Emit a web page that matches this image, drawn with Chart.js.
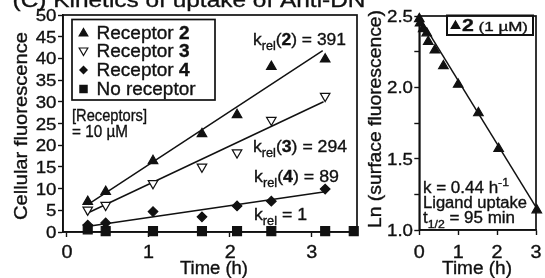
<!DOCTYPE html>
<html>
<head>
<meta charset="utf-8">
<script src="https://cdn.jsdelivr.net/npm/chart.js@4.4.1/dist/chart.umd.min.js"></script>
<style>
html, body { margin: 0; padding: 0; background: #fff; }
#wrap { position: relative; width: 545px; height: 278px; overflow: hidden; }
canvas { position: absolute; left: 0; top: 0; }
</style>
</head>
<body>
<div id="wrap">
  <canvas id="uptake" width="545" height="278"></canvas>
  <canvas id="lnplot" width="545" height="278"></canvas>
</div>
<script>
'use strict'
var FONT = "'Liberation Sans', Arial, Helvetica, sans-serif";
var INK = '#111';

// left panel: cellular fluorescence vs time (h)
var timeH = [0.26, 0.48, 1.06, 1.66, 2.09, 2.51, 3.17];
var rec2 = [7.0, 9.3, 16.4, 22.6, 27.0, 38.1, 39.8];
var rec3 = [5.1, 6.2, 11.2, 15.0, 18.3, 25.8, 31.3];
var rec4 = [1.6, 2.1, 4.7, 3.5, 6.0, 7.1, 9.9];
var timeNone = [0.26, 0.48, 1.06, 1.66, 2.09, 2.51, 3.17, 3.52];
var noRec = [0.6, 0.2, 0.2, 0.2, 0.2, 0.2, 0.2, 0.2];
var fit2T = [0.26, 3.14], fit2 = [6.3, 41.8];
var fit3T = [0.24, 3.15], fit3 = [4.2, 30.0];
var fit4T = [0.27, 3.17], fit4 = [1.3, 9.3];
var xTicksL = [0, 1, 2, 3];
var yTicksL = [0, 5, 10, 15, 20, 25, 30, 35, 40, 45, 50];

// right panel: ln(surface fluorescence) vs time (h)
var timeR = [0, 0.02, 0.10, 0.19, 0.23, 0.40, 0.62, 1.00, 1.52, 2.04, 3.02];
var lnR = [2.48, 2.45, 2.41, 2.38, 2.32, 2.26, 2.15, 2.02, 1.82, 1.57, 1.14];
var fitRT = [0, 3], fitR = [2.49, 1.16];
var xTicksR = [0, 1, 2, 3];
var yTicksR = [1.0, 1.25, 1.5, 1.75, 2.0, 2.25, 2.5];
var yLabR = [1.0, 1.5, 2.0, 2.5];
var yLabRText = ['1.0', '1.5', '2.0', '2.5'];

Chart.defaults.font.family = FONT;

// draws a run of text pieces: [text, style] with style b / sub / sup / s
function rich(ctx, x, y, segs, size, opt) {
  opt = opt || {};
  var parts = segs.map(function (s) {
    var st = s[1] || '';
    var sz = (st === 'sub' || st === 'sup') ? size * 0.72 : st === 's' ? size * 0.8 : size;
    var f = (st === 'b' ? 'bold ' : '') + sz + 'px ' + FONT;
    ctx.font = f;
    return { t: s[0], f: f, w: ctx.measureText(s[0]).width,
      dy: st === 'sub' ? size * 0.3 : st === 'sup' ? -size * 0.42 : 0 };
  });
  var tot = parts.reduce(function (a, p) { return a + p.w; }, 0);
  var sx = opt.w ? opt.w / tot : (opt.sx || 1);
  var x0 = opt.align === 'center' ? -tot / 2 : opt.align === 'right' ? -tot : 0;
  ctx.save();
  ctx.translate(x, y);
  if (opt.rot) ctx.rotate(opt.rot);
  ctx.scale(sx, 1);
  ctx.fillStyle = INK;
  ctx.strokeStyle = INK;
  ctx.lineWidth = 0.35;
  ctx.textAlign = 'left';
  ctx.textBaseline = 'alphabetic';
  parts.forEach(function (p) {
    ctx.font = p.f;
    ctx.fillText(p.t, x0, p.dy);
    ctx.strokeText(p.t, x0, p.dy);
    x0 += p.w;
  });
  ctx.restore();
}

function mark(ctx, kind, x, y, r) {
  ctx.save();
  ctx.fillStyle = INK; ctx.strokeStyle = INK; ctx.lineWidth = 1.2;
  ctx.beginPath();
  if (kind === 'up') {
    ctx.moveTo(x, y - r); ctx.lineTo(x + r * 0.866, y + r / 2); ctx.lineTo(x - r * 0.866, y + r / 2);
    ctx.closePath(); ctx.fill(); ctx.stroke();
  } else if (kind === 'down') {
    ctx.moveTo(x, y + r); ctx.lineTo(x + r * 0.866, y - r / 2); ctx.lineTo(x - r * 0.866, y - r / 2);
    ctx.closePath(); ctx.fillStyle = '#fff'; ctx.fill(); ctx.stroke();
  } else if (kind === 'dia') {
    ctx.moveTo(x, y - r); ctx.lineTo(x + r, y); ctx.lineTo(x, y + r); ctx.lineTo(x - r, y);
    ctx.closePath(); ctx.fill();
  } else {
    ctx.rect(x - r * 0.707, y - r * 0.707, r * 1.414, r * 1.414); ctx.fill();
  }
  ctx.restore();
}

function pts(xs, ys) { return xs.map(function (x, i) { return { x: x, y: ys[i] }; }); }
function markSet(xs, ys, style, r, fill, rot) {
  return { data: pts(xs, ys), pointStyle: style, pointRadius: r, pointRotation: rot || 0,
    pointBackgroundColor: fill, pointBorderColor: INK, pointBorderWidth: 1.2,
    showLine: false, clip: false, order: 0 };
}
function fitSet(xs, ys) {
  return { data: pts(xs, ys), showLine: true, borderColor: INK, borderWidth: 1.5,
    pointRadius: 0, clip: false, order: 1, fill: false };
}
function setTicks(vals) { return function (s) { s.ticks = vals.map(function (v) { return { value: v }; }); }; }
function fixW(w) { return function (s) { s.width = w; s.paddingTop = 0; s.paddingBottom = 0; }; }
function fixH(h) { return function (s) { s.height = h; s.paddingLeft = 0; s.paddingRight = 0; }; }
var gridOpts = { drawOnChartArea: false, drawTicks: true, tickLength: 5, tickWidth: 1.4, color: INK };
var borderOpts = { display: true, color: INK, width: 1.6 };
var hidden = { color: 'rgba(0,0,0,0)', autoSkip: false };

function frame(chart) {
  var ctx = chart.ctx, a = chart.chartArea;
  ctx.save();
  ctx.strokeStyle = INK; ctx.lineWidth = 1.7;
  ctx.strokeRect(a.left, a.top, a.right - a.left, a.bottom - a.top);
  ctx.restore();
}

/*----left panel----*/
var leftDeco = {
  id: 'leftDeco',
  beforeDatasetsDraw: frame,
  afterDraw: function (chart) {
    var ctx = chart.ctx, sx = chart.scales.x, sy = chart.scales.y;
    // cut-off panel title
    ctx.save();
    ctx.beginPath(); ctx.rect(0, 0, 364, 278); ctx.clip();
    ctx.font = '21px ' + FONT;
    var tw = ctx.measureText('(C) Kinetics of uptake of Anti-DN').width;
    rich(ctx, 12.5, 7, [['(C) Kinetics of uptake of Anti-DNA']], 21, { sx: 353 / tw });
    ctx.restore();

    yTicksL.forEach(function (v) {
      rich(ctx, 56.5, sy.getPixelForValue(v) + 6, [[String(v)]], 17, { sx: 1.1, align: 'right' });
    });
    xTicksL.forEach(function (v) {
      rich(ctx, sx.getPixelForValue(v) + 0.5, 258, [[String(v)]], 18, { sx: 1.1, align: 'center' });
    });
    rich(ctx, 214, 274, [['Time (h)']], 18, { w: 68, align: 'center' });
    rich(ctx, 27, 126, [['Cellular fluorescence']], 18, { w: 188, align: 'center', rot: -Math.PI / 2 });

    // legend
    ctx.save();
    ctx.strokeStyle = INK; ctx.lineWidth = 1.7;
    ctx.strokeRect(72, 19.5, 143, 80.5);
    ctx.restore();
    mark(ctx, 'up', 83.5, 33.5, 5);
    mark(ctx, 'down', 83.5, 50.5, 5);
    mark(ctx, 'dia', 83.5, 70, 4.5);
    mark(ctx, 'sq', 83.5, 89, 6);
    rich(ctx, 96.5, 38.5, [['Receptor '], ['2', 'b']], 18, { w: 93 });
    rich(ctx, 96.5, 57, [['Receptor '], ['3', 'b']], 18, { w: 93 });
    rich(ctx, 96.5, 75.5, [['Receptor '], ['4', 'b']], 18, { w: 93 });
    rich(ctx, 96.5, 94.5, [['No receptor']], 18, { w: 99 });

    rich(ctx, 72, 121, [['[Receptors]']], 17, { w: 75 });
    rich(ctx, 72, 136.5, [['= 10 \u00b5M']], 17, { w: 56 });

    rich(ctx, 253, 45, [['k'], ['rel', 'sub'], ['('], ['2', 'b'], [') = 391']], 17, { w: 93 });
    rich(ctx, 253, 151.5, [['k'], ['rel', 'sub'], ['('], ['3', 'b'], [') = 294']], 17, { w: 94 });
    rich(ctx, 254, 181.5, [['k'], ['rel', 'sub'], ['('], ['4', 'b'], [') = 89']], 17, { w: 85 });
    rich(ctx, 254, 220, [['k'], ['rel', 'sub'], [' = 1']], 17, { w: 53 });
  }
};

new Chart(document.getElementById('uptake'), {
  type: 'scatter',
  data: {
    datasets: [
      markSet(timeH, rec2, 'triangle', 5.5, INK),
      markSet(timeH, rec3, 'triangle', 5.5, '#fff', 180),
      markSet(timeH, rec4, 'rectRot', 4.8, INK),
      markSet(timeNone, noRec, 'rect', 6.3, INK),
      fitSet(fit2T, fit2),
      fitSet(fit3T, fit3),
      fitSet(fit4T, fit4)
    ]
  },
  options: {
    responsive: false,
    animation: false,
    events: [],
    layout: { padding: { left: 0, top: 15, right: 188, bottom: 26 } },
    plugins: { legend: { display: false }, tooltip: { enabled: false } },
    scales: {
      x: { type: 'linear', min: -0.043, max: 3.56, afterBuildTicks: setTicks(xTicksL), afterFit: fixH(20),
        grid: gridOpts, border: borderOpts, ticks: hidden },
      y: { type: 'linear', min: 0, max: 50, afterBuildTicks: setTicks(yTicksL), afterFit: fixW(63),
        grid: gridOpts, border: borderOpts, ticks: hidden }
    }
  },
  plugins: [leftDeco]
});

/*----right panel----*/
var rightDeco = {
  id: 'rightDeco',
  beforeDatasetsDraw: frame,
  afterDraw: function (chart) {
    var ctx = chart.ctx, sx = chart.scales.x, sy = chart.scales.y;
    yLabR.forEach(function (v, i) {
      rich(ctx, 413, sy.getPixelForValue(v) + 6, [[yLabRText[i]]], 17, { sx: 1.1, align: 'right' });
    });
    xTicksR.forEach(function (v) {
      rich(ctx, sx.getPixelForValue(v), 258, [[String(v)]], 18, { sx: 1.1, align: 'center' });
    });
    rich(ctx, 477, 274, [['Time (h)']], 18, { w: 70, align: 'center' });
    rich(ctx, 381, 119, [['Ln (surface fluorescence)']], 18, { w: 218, align: 'center', rot: -Math.PI / 2 });

    ctx.save();
    ctx.strokeStyle = INK; ctx.lineWidth = 2;
    ctx.strokeRect(447, 15.5, 86, 19.5);
    ctx.restore();
    mark(ctx, 'up', 455.5, 26, 5);
    rich(ctx, 462, 30.5, [['2', 'b'], [' (1 \u00b5M)', 's']], 16, { w: 66 });

    rich(ctx, 423, 193, [['k = 0.44 h'], ['-1', 'sup']], 16, { w: 86 });
    rich(ctx, 423, 208, [['Ligand uptake']], 16, { w: 104 });
    rich(ctx, 423, 223, [['t'], ['1/2', 'sub'], [' = 95 min']], 16, { w: 92 });
  }
};

new Chart(document.getElementById('lnplot'), {
  type: 'scatter',
  data: {
    datasets: [
      markSet(timeR, lnR, 'triangle', 5.5, INK),
      fitSet(fitRT, fitR)
    ]
  },
  options: {
    responsive: false,
    animation: false,
    events: [],
    layout: { padding: { left: 400, top: 16, right: 9, bottom: 28 } },
    plugins: { legend: { display: false }, tooltip: { enabled: false } },
    scales: {
      x: { type: 'linear', min: 0, max: 3, afterBuildTicks: setTicks(xTicksR), afterFit: fixH(20),
        grid: gridOpts, border: borderOpts, ticks: hidden },
      y: { type: 'linear', min: 1, max: 2.5, afterBuildTicks: setTicks(yTicksR), afterFit: fixW(19.3),
        grid: gridOpts, border: borderOpts, ticks: hidden }
    }
  },
  plugins: [rightDeco]
});
</script>
</body>
</html>
